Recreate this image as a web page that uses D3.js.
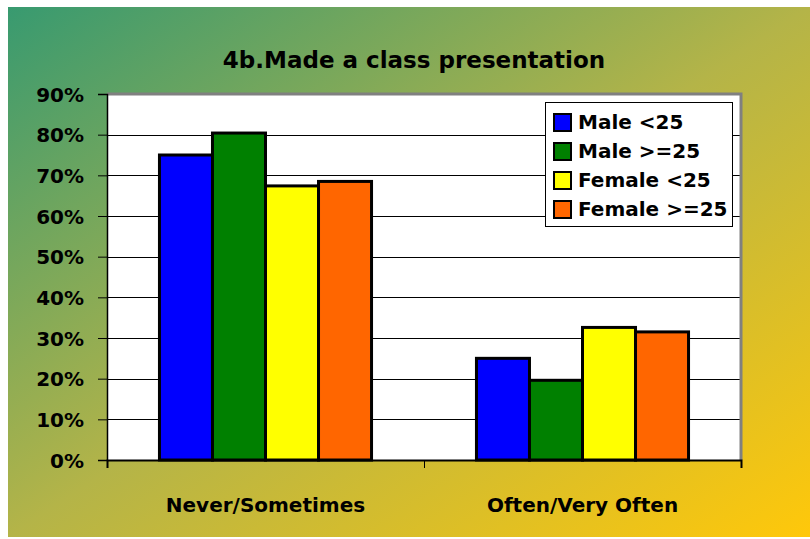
<!DOCTYPE html>
<html><head><meta charset="utf-8">
<script src="https://cdn.jsdelivr.net/npm/d3@7"></script>
<style>body{margin:0;background:#fff}svg{display:block}text{font-family:"Comic Sans MS","DejaVu Sans",sans-serif;font-weight:bold;fill:#000}</style>
</head><body>
<script>
const title = "4b.Made a class presentation";
const categories = ["Never/Sometimes", "Often/Very Often"];
const seriesNames = ["Male <25", "Male >=25", "Female <25", "Female >=25"];
const seriesColors = ["#0000ff", "#008000", "#ffff00", "#ff6600"];
const male_lt25 = [75.0, 25.0];
const male_ge25 = [80.4, 19.6];
const female_lt25 = [67.4, 32.6];
const female_ge25 = [68.5, 31.5];
const yTicks = [0, 10, 20, 30, 40, 50, 60, 70, 80, 90];

const series = [male_lt25, male_ge25, female_lt25, female_ge25];
const W = 810, H = 539;
const svg = d3.select("body").append("svg").attr("width", W).attr("height", H);
const defs = svg.append("defs");
const g = defs.append("linearGradient").attr("id", "bg").attr("x1", 0).attr("y1", 0).attr("x2", 1).attr("y2", 1);
g.append("stop").attr("offset", "0%").attr("stop-color", "#389a70");
g.append("stop").attr("offset", "50%").attr("stop-color", "#b4b448");
g.append("stop").attr("offset", "100%").attr("stop-color", "#ffc80a");
svg.append("rect").attr("x", 8).attr("y", 7).attr("width", W - 8).attr("height", 530).attr("fill", "url(#bg)");

const L = 107, R = 741, T = 94, B = 460;
const x0 = d3.scaleBand().domain(categories).range([L, R]).paddingInner(0.331).paddingOuter(0.1655);
const x1 = d3.scaleBand().domain(seriesNames).range([0, x0.bandwidth()]);
const y = d3.scaleLinear().domain([0, 90]).range([B, T]);

// plot area
svg.append("rect").attr("x", L).attr("y", T).attr("width", R - L).attr("height", B - T).attr("fill", "#fff");
// gridlines
svg.append("g").selectAll("line").data(yTicks.filter(d => d > 0 && d < 90)).join("line")
  .attr("x1", L).attr("x2", R).attr("y1", d => Math.round(y(d)) + 0.5).attr("y2", d => Math.round(y(d)) + 0.5)
  .attr("stroke", "#000").attr("stroke-width", 1);
// grey border top/right
svg.append("path").attr("d", `M${L},${T} H${R} V${B}`).attr("fill", "none").attr("stroke", "#808080").attr("stroke-width", 3);

// bars
categories.forEach((c, ci) => {
  series.forEach((s, si) => {
    svg.append("rect")
      .attr("x", x0(c) + x1(seriesNames[si]))
      .attr("y", y(s[ci]))
      .attr("width", x1.bandwidth())
      .attr("height", y(0) - y(s[ci]))
      .attr("fill", seriesColors[si]).attr("stroke", "#000").attr("stroke-width", 3);
  });
});

// y axis
const ya = d3.axisLeft(y).tickValues(yTicks).tickFormat(d => d + "%").tickSize(9).tickPadding(14);
const yg = svg.append("g").attr("transform", `translate(${L},0)`).call(ya);
yg.select(".domain").attr("stroke", "#000").attr("stroke-width", 1.5);
yg.selectAll(".tick line").attr("stroke", "#000");
yg.selectAll(".tick text").style("font-size", "20px").attr("dy", "0.35em");

// x axis
const xa = d3.axisBottom(d3.scaleLinear().domain([0, 2]).range([L, R])).tickValues([0, 1, 2]).tickFormat("").tickSize(8);
const xg = svg.append("g").attr("transform", `translate(0,${B})`).call(xa);
xg.select(".domain").attr("stroke", "#000").attr("stroke-width", 2);
xg.selectAll(".tick line").attr("stroke", "#000");

svg.append("g").selectAll("text").data(categories).join("text")
  .attr("x", d => x0(d) + x0.bandwidth() / 2).attr("y", 512)
  .attr("text-anchor", "middle").style("font-size", "20px").text(d => d);

// title
svg.append("text").attr("x", 414).attr("y", 68).attr("text-anchor", "middle").style("font-size", "23px").text(title);

// legend
const lg = svg.append("g");
lg.append("rect").attr("x", 545.5).attr("y", 102.5).attr("width", 187).attr("height", 124).attr("fill", "#fff").attr("stroke", "#000").attr("stroke-width", 1);
seriesNames.forEach((n, i) => {
  const cy = 122 + i * 29;
  lg.append("rect").attr("x", 554).attr("y", cy - 8).attr("width", 17).attr("height", 17)
    .attr("fill", seriesColors[i]).attr("stroke", "#000").attr("stroke-width", 2);
  lg.append("text").attr("x", 578).attr("y", cy).attr("dy", "0.36em").style("font-size", "20px").text(n);
});
</script>
</body></html>
